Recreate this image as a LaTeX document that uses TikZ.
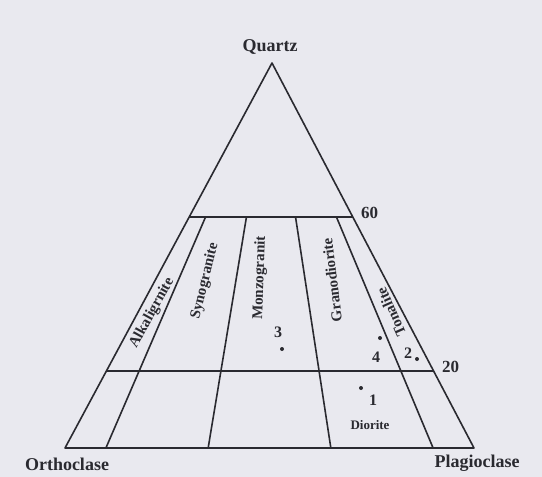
\documentclass[tikz,border=0pt]{standalone}
\usepackage{fontspec}
\setmainfont{Liberation Serif}
\usetikzlibrary{calc,positioning}
\definecolor{paper}{RGB}{233,233,239}
\definecolor{ink}{RGB}{42,42,48}

\begin{document}
\begin{tikzpicture}[
  x=1pt, y=-1pt,
  edge/.style={draw=ink, line width=1.6pt, line join=round},
  corner/.style={text=ink, inner sep=0pt, font=\fontsize{18}{18}\selectfont\bfseries},
  field/.style={text=ink, inner sep=0pt, font=\fontsize{15}{15}\selectfont\bfseries},
  tick/.style={text=ink, inner sep=0pt, font=\fontsize{17}{17}\selectfont\bfseries},
  tag/.style={text=ink, inner sep=0pt, font=\fontsize{16}{16}\selectfont\bfseries},
  sample/.style={circle, fill=ink, inner sep=0pt, minimum size=4pt}
]
  \fill[paper] (0,0) rectangle (542,477);
  \useasboundingbox (0,0) rectangle (542,477);

  % corners of the triangle
  \coordinate (Q) at (272,63);
  \coordinate (A) at (65,448);
  \coordinate (P) at (474,448);
  \coordinate (A60) at ($(A)!0.6!(Q)$);
  \coordinate (P60) at ($(P)!0.6!(Q)$);
  \coordinate (A20) at ($(A)!0.2!(Q)$);
  \coordinate (P20) at ($(P)!0.2!(Q)$);

  \draw[edge] (A) -- (Q) -- (P) -- cycle;
  \draw[edge] (A60) -- (P60);
  \draw[edge] (A20) -- (P20);
  \foreach \f in {0.1,0.35,0.65,0.9}
    \draw[edge] ($(A60)!\f!(P60)$) -- ($(A)!\f!(P)$);

  % corner names and levels
  \node[corner] (quartz) at (270,47) {Quartz};
  \node[corner] (ortho) at (67,464) {Orthoclase};
  \node[corner] (plagio) at (477,463) {Plagioclase};
  \node[tick, anchor=west] (q60) at (361,213) {60};
  \node[tick, anchor=west] (q20) at (442,367) {20};

  % fields
  \node[field, rotate=61] (alk) at (152,313) {Alkaligrnite};
  \node[field, rotate=76] (syn) at (205,281) {Synogranite};
  \node[field, rotate=88] (monzo) at (260,278) {Monzogranit};
  \node[field, rotate=97] (grano) at (332,280) {Granodiorite};
  \node[field, rotate=114] (tona) at (391,312) {Tonalite};
  \node[field, font=\fontsize{13}{13}\selectfont\bfseries] (dio) at (370,425) {Diorite};

  % samples
  \node[sample] (s3) at (282,349) {};
  \node[tag] (n3) at (278,332) {3};
  \node[sample] (s4) at (380,338) {};
  \node[tag] (n4) at (376,357) {4};
  \node[sample] (s2) at (417,359) {};
  \node[tag] (n2) at (408,353) {2};
  \node[sample] (s1) at (361,388) {};
  \node[tag] (n1) at (373,400) {1};
\end{tikzpicture}
\end{document}
